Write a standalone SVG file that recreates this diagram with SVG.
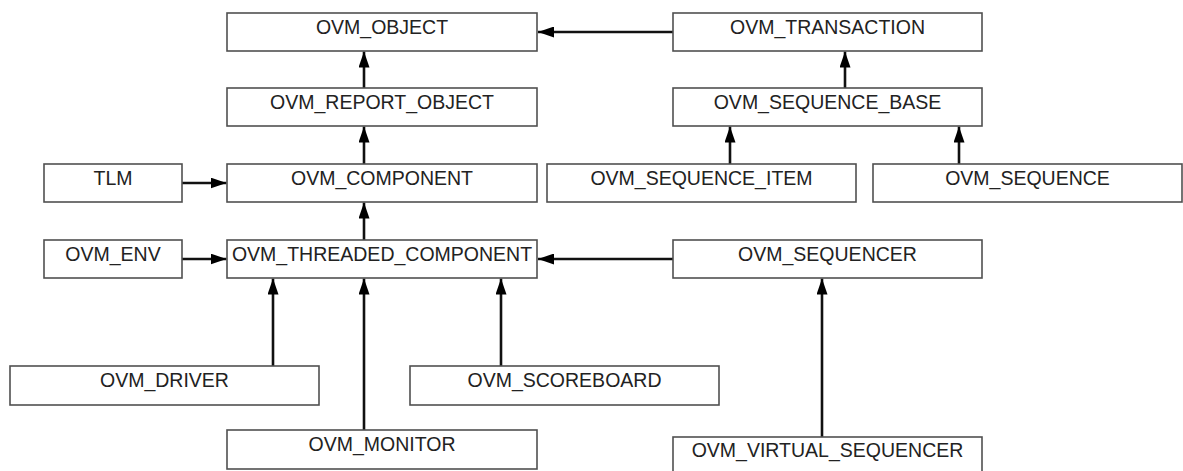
<svg xmlns="http://www.w3.org/2000/svg" width="1183" height="471" viewBox="0 0 1183 471">
  <style>
    .box rect { fill: #ffffff; stroke: #505050; stroke-width: 1.6; }
    .box text { font-family: "Liberation Sans", Arial, sans-serif; font-size: 19.5px; fill: #222222; text-anchor: middle; }
    .edge { fill: none; stroke: #111111; stroke-width: 2.6; }
  </style>
  <defs>
    <marker id="head" viewBox="0 0 16 11" refX="16" refY="5.5" markerWidth="16" markerHeight="11" markerUnits="userSpaceOnUse" orient="auto">
      <path d="M0,0 L16,5.5 L0,11 Z" fill="#000000"/>
    </marker>
  </defs>
  <rect x="0" y="0" width="1183" height="471" fill="#ffffff"/>

  <!-- inheritance connectors -->
  <g id="connectors">
    <line class="edge" x1="673" y1="32" x2="538" y2="32" marker-end="url(#head)"/>
    <line class="edge" x1="364" y1="88" x2="364" y2="51.5" marker-end="url(#head)"/>
    <line class="edge" x1="364" y1="164" x2="364" y2="126.5" marker-end="url(#head)"/>
    <line class="edge" x1="364" y1="240" x2="364" y2="202.5" marker-end="url(#head)"/>
    <line class="edge" x1="845" y1="88" x2="845" y2="51.5" marker-end="url(#head)"/>
    <line class="edge" x1="730" y1="164" x2="730" y2="126.5" marker-end="url(#head)"/>
    <line class="edge" x1="959" y1="164" x2="959" y2="126.5" marker-end="url(#head)"/>
    <line class="edge" x1="182" y1="183" x2="226.5" y2="183" marker-end="url(#head)"/>
    <line class="edge" x1="182" y1="259" x2="226.5" y2="259" marker-end="url(#head)"/>
    <line class="edge" x1="673" y1="259" x2="538" y2="259" marker-end="url(#head)"/>
    <line class="edge" x1="273" y1="366" x2="273" y2="278.5" marker-end="url(#head)"/>
    <line class="edge" x1="364" y1="430" x2="364" y2="278.5" marker-end="url(#head)"/>
    <line class="edge" x1="501" y1="366" x2="501" y2="278.5" marker-end="url(#head)"/>
    <line class="edge" x1="822" y1="437" x2="822" y2="278.5" marker-end="url(#head)"/>
  </g>

  <g id="ovm_object" class="box">
    <rect x="227" y="13" width="310" height="38"/>
    <text x="382" y="34">OVM_OBJECT</text>
  </g>
  <g id="ovm_transaction" class="box">
    <rect x="673" y="13" width="309" height="38"/>
    <text x="827.5" y="34">OVM_TRANSACTION</text>
  </g>
  <g id="ovm_report_object" class="box">
    <rect x="227" y="88" width="310" height="38"/>
    <text x="382" y="109">OVM_REPORT_OBJECT</text>
  </g>
  <g id="ovm_sequence_base" class="box">
    <rect x="673" y="88" width="309" height="38"/>
    <text x="827.5" y="109">OVM_SEQUENCE_BASE</text>
  </g>
  <g id="tlm" class="box">
    <rect x="44" y="164" width="138" height="38"/>
    <text x="113" y="185">TLM</text>
  </g>
  <g id="ovm_component" class="box">
    <rect x="227" y="164" width="310" height="38"/>
    <text x="382" y="185">OVM_COMPONENT</text>
  </g>
  <g id="ovm_sequence_item" class="box">
    <rect x="547" y="164" width="309" height="38"/>
    <text x="701.5" y="185">OVM_SEQUENCE_ITEM</text>
  </g>
  <g id="ovm_sequence" class="box">
    <rect x="873" y="164" width="309" height="38"/>
    <text x="1027.5" y="185">OVM_SEQUENCE</text>
  </g>
  <g id="ovm_env" class="box">
    <rect x="44" y="240" width="138" height="38"/>
    <text x="113" y="261">OVM_ENV</text>
  </g>
  <g id="ovm_threaded_component" class="box">
    <rect x="227" y="240" width="310" height="38"/>
    <text x="382" y="261">OVM_THREADED_COMPONENT</text>
  </g>
  <g id="ovm_sequencer" class="box">
    <rect x="673" y="240" width="309" height="38"/>
    <text x="827.5" y="261">OVM_SEQUENCER</text>
  </g>
  <g id="ovm_driver" class="box">
    <rect x="10" y="366" width="309" height="39"/>
    <text x="164.5" y="387">OVM_DRIVER</text>
  </g>
  <g id="ovm_scoreboard" class="box">
    <rect x="410" y="366" width="309" height="39"/>
    <text x="564.5" y="387">OVM_SCOREBOARD</text>
  </g>
  <g id="ovm_monitor" class="box">
    <rect x="227" y="430" width="310" height="39"/>
    <text x="382" y="451">OVM_MONITOR</text>
  </g>
  <g id="ovm_virtual_sequencer" class="box">
    <rect x="673" y="437" width="309" height="40"/>
    <text x="827.5" y="457">OVM_VIRTUAL_SEQUENCER</text>
  </g>
</svg>
